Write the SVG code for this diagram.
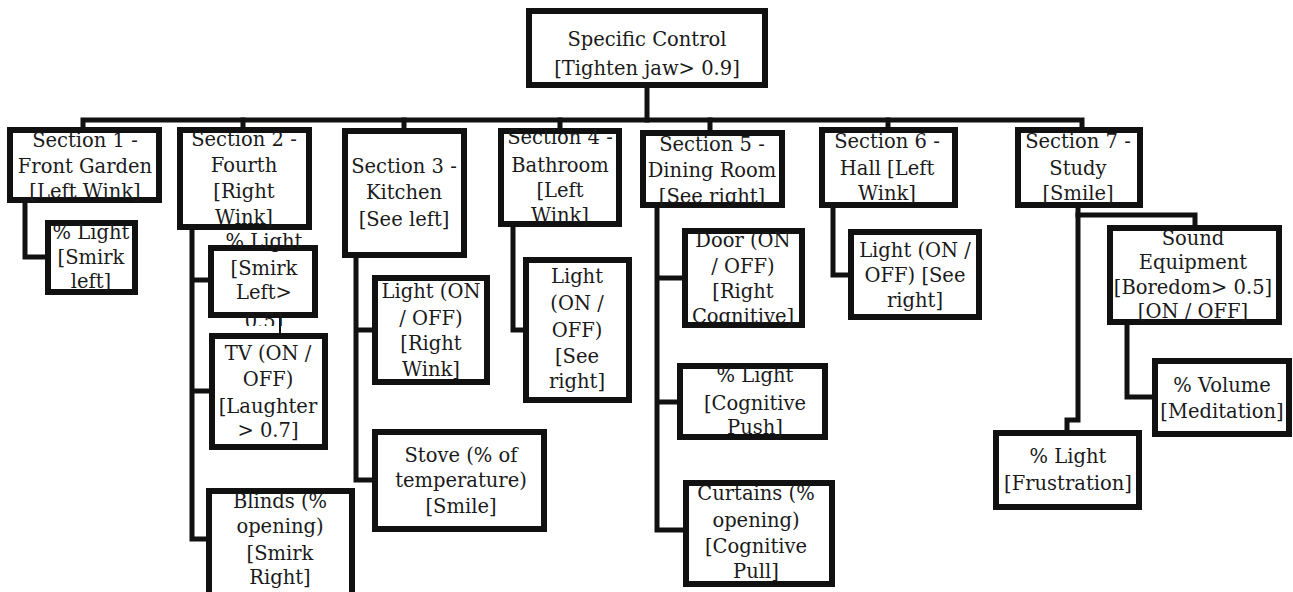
<svg xmlns="http://www.w3.org/2000/svg" width="1293" height="592" viewBox="0 0 1293 592">
<style>
  .box { fill: #fff; stroke: #111; stroke-width: 6; }
  .t { font-family: "DejaVu Serif", "Liberation Serif", serif; font-size: 19.5px; fill: #1a1a1a; text-anchor: middle; }
  .c { fill: none; stroke: #111; stroke-width: 5; stroke-linejoin: miter; stroke-linecap: square; }
  .thin { fill: none; stroke: #111; stroke-width: 2; }
</style>
<defs>
  <clipPath id="clipS2L"><rect x="190" y="233" width="150" height="93"/></clipPath>
</defs>
<rect x="0" y="0" width="1293" height="592" fill="#fff"/>

<g id="connectors">
  <path class="c" d="M647 88 V120"/>
  <path class="c" d="M83 127 V120 H1082 V127"/>
  <path class="c" d="M243 120 V127 M404 120 V128 M560 120 V128 M710 120 V130 M888 120 V127"/>
  <path class="c" d="M25 203 V257 H45"/>
  <path class="c" d="M192 230 V539 H207 M192 280 H209 M192 391 H209"/>
  <path class="thin" d="M280 318 V333"/>
  <path class="c" d="M356 258 V480 H372 M356 330 H372"/>
  <path class="c" d="M513 227 V330 H523"/>
  <path class="c" d="M657 208 V530 H683 M657 278 H682 M657 402 H677"/>
  <path class="c" d="M833 208 V275 H848"/>
  <path class="c" d="M1078 208 V420 H1067 V430"/>
  <path class="c" d="M1078 215 H1195 V225"/>
  <path class="c" d="M1127 325 V397 H1152"/>
</g>

<g id="root">
  <rect class="box" x="529" y="11" width="236" height="74"/>
  <text class="t" x="647" y="46">Specific Control</text>
  <text class="t" x="647" y="75">[Tighten jaw&gt; 0.9]</text>
</g>

<g id="s1">
  <rect class="box" x="10" y="130" width="149" height="70"/>
  <text class="t" x="85" y="147">Section 1 -</text>
  <text class="t" x="85" y="173">Front Garden</text>
  <text class="t" x="85" y="198">[Left Wink]</text>
</g>
<g id="s1-light">
  <rect class="box" x="48" y="223" width="87" height="69"/>
  <text class="t" x="91" y="239">% Light</text>
  <text class="t" x="91" y="264">[Smirk</text>
  <text class="t" x="91" y="288">left]</text>
</g>

<g id="s2">
  <rect class="box" x="180" y="130" width="129" height="97"/>
  <text class="t" x="244" y="146">Section 2 -</text>
  <text class="t" x="244" y="172">Fourth</text>
  <text class="t" x="244" y="198">[Right</text>
  <text class="t" x="244" y="224">Wink]</text>
</g>
<g id="s2-light">
  <rect class="box" x="211" y="248" width="104" height="67"/>
  <g clip-path="url(#clipS2L)">
    <text class="t" x="264" y="248">% Light</text>
    <text class="t" x="264" y="275">[Smirk</text>
    <text class="t" x="264" y="299">Left&gt;</text>
    <text class="t" x="264" y="328">0.5]</text>
  </g>
</g>
<g id="s2-tv">
  <rect class="box" x="212" y="336" width="113" height="111"/>
  <text class="t" x="268" y="360">TV (ON /</text>
  <text class="t" x="268" y="386">OFF)</text>
  <text class="t" x="268" y="413">[Laughter</text>
  <text class="t" x="268" y="437">&gt; 0.7]</text>
</g>
<g id="s2-blinds">
  <rect class="box" x="209" y="491" width="143" height="104"/>
  <text class="t" x="280" y="508">Blinds (%</text>
  <text class="t" x="280" y="533">opening)</text>
  <text class="t" x="280" y="560">[Smirk</text>
  <text class="t" x="280" y="584">Right]</text>
</g>

<g id="s3">
  <rect class="box" x="345" y="131" width="119" height="124"/>
  <text class="t" x="404" y="173">Section 3 -</text>
  <text class="t" x="404" y="199">Kitchen</text>
  <text class="t" x="404" y="226">[See left]</text>
</g>
<g id="s3-light">
  <rect class="box" x="375" y="278" width="112" height="104"/>
  <text class="t" x="431" y="298">Light (ON</text>
  <text class="t" x="431" y="325">/ OFF)</text>
  <text class="t" x="431" y="350">[Right</text>
  <text class="t" x="431" y="376">Wink]</text>
</g>
<g id="s3-stove">
  <rect class="box" x="375" y="432" width="169" height="97"/>
  <text class="t" x="461" y="462">Stove (% of</text>
  <text class="t" x="461" y="487">temperature)</text>
  <text class="t" x="461" y="513">[Smile]</text>
</g>

<g id="s4">
  <rect class="box" x="501" y="131" width="118" height="93"/>
  <text class="t" x="560" y="144">Section 4 -</text>
  <text class="t" x="560" y="172">Bathroom</text>
  <text class="t" x="560" y="197">[Left</text>
  <text class="t" x="560" y="222">Wink]</text>
</g>
<g id="s4-light">
  <rect class="box" x="526" y="260" width="103" height="140"/>
  <text class="t" x="577" y="283">Light</text>
  <text class="t" x="577" y="310">(ON /</text>
  <text class="t" x="577" y="337">OFF)</text>
  <text class="t" x="577" y="363">[See</text>
  <text class="t" x="577" y="388">right]</text>
</g>

<g id="s5">
  <rect class="box" x="643" y="133" width="139" height="72"/>
  <text class="t" x="712" y="151">Section 5 -</text>
  <text class="t" x="712" y="177">Dining Room</text>
  <text class="t" x="712" y="203">[See right]</text>
</g>
<g id="s5-door">
  <rect class="box" x="685" y="231" width="117" height="94"/>
  <text class="t" x="743" y="247">Door (ON</text>
  <text class="t" x="743" y="273">/ OFF)</text>
  <text class="t" x="743" y="298">[Right</text>
  <text class="t" x="743" y="323">Cognitive]</text>
</g>
<g id="s5-light">
  <rect class="box" x="680" y="366" width="145" height="71"/>
  <text class="t" x="755" y="382">% Light</text>
  <text class="t" x="755" y="410">[Cognitive</text>
  <text class="t" x="755" y="434">Push]</text>
</g>
<g id="s5-curtains">
  <rect class="box" x="686" y="483" width="146" height="101"/>
  <text class="t" x="756" y="500">Curtains (%</text>
  <text class="t" x="756" y="527">opening)</text>
  <text class="t" x="756" y="553">[Cognitive</text>
  <text class="t" x="756" y="578">Pull]</text>
</g>

<g id="s6">
  <rect class="box" x="822" y="130" width="133" height="75"/>
  <text class="t" x="887" y="148">Section 6 -</text>
  <text class="t" x="887" y="175">Hall [Left</text>
  <text class="t" x="887" y="200">Wink]</text>
</g>
<g id="s6-light">
  <rect class="box" x="851" y="232" width="128" height="85"/>
  <text class="t" x="915" y="257">Light (ON /</text>
  <text class="t" x="915" y="282">OFF) [See</text>
  <text class="t" x="915" y="307">right]</text>
</g>

<g id="s7">
  <rect class="box" x="1018" y="130" width="122" height="75"/>
  <text class="t" x="1078" y="148">Section 7 -</text>
  <text class="t" x="1078" y="175">Study</text>
  <text class="t" x="1078" y="200">[Smile]</text>
</g>
<g id="s7-sound">
  <rect class="box" x="1110" y="228" width="169" height="94"/>
  <text class="t" x="1193" y="245">Sound</text>
  <text class="t" x="1193" y="269">Equipment</text>
  <text class="t" x="1193" y="294">[Boredom&gt; 0.5]</text>
  <text class="t" x="1193" y="318">[ON / OFF]</text>
</g>
<g id="s7-volume">
  <rect class="box" x="1155" y="361" width="134" height="73"/>
  <text class="t" x="1222" y="392">% Volume</text>
  <text class="t" x="1222" y="418">[Meditation]</text>
</g>
<g id="s7-light">
  <rect class="box" x="996" y="433" width="143" height="74"/>
  <text class="t" x="1068" y="463">% Light</text>
  <text class="t" x="1068" y="490">[Frustration]</text>
</g>
</svg>
